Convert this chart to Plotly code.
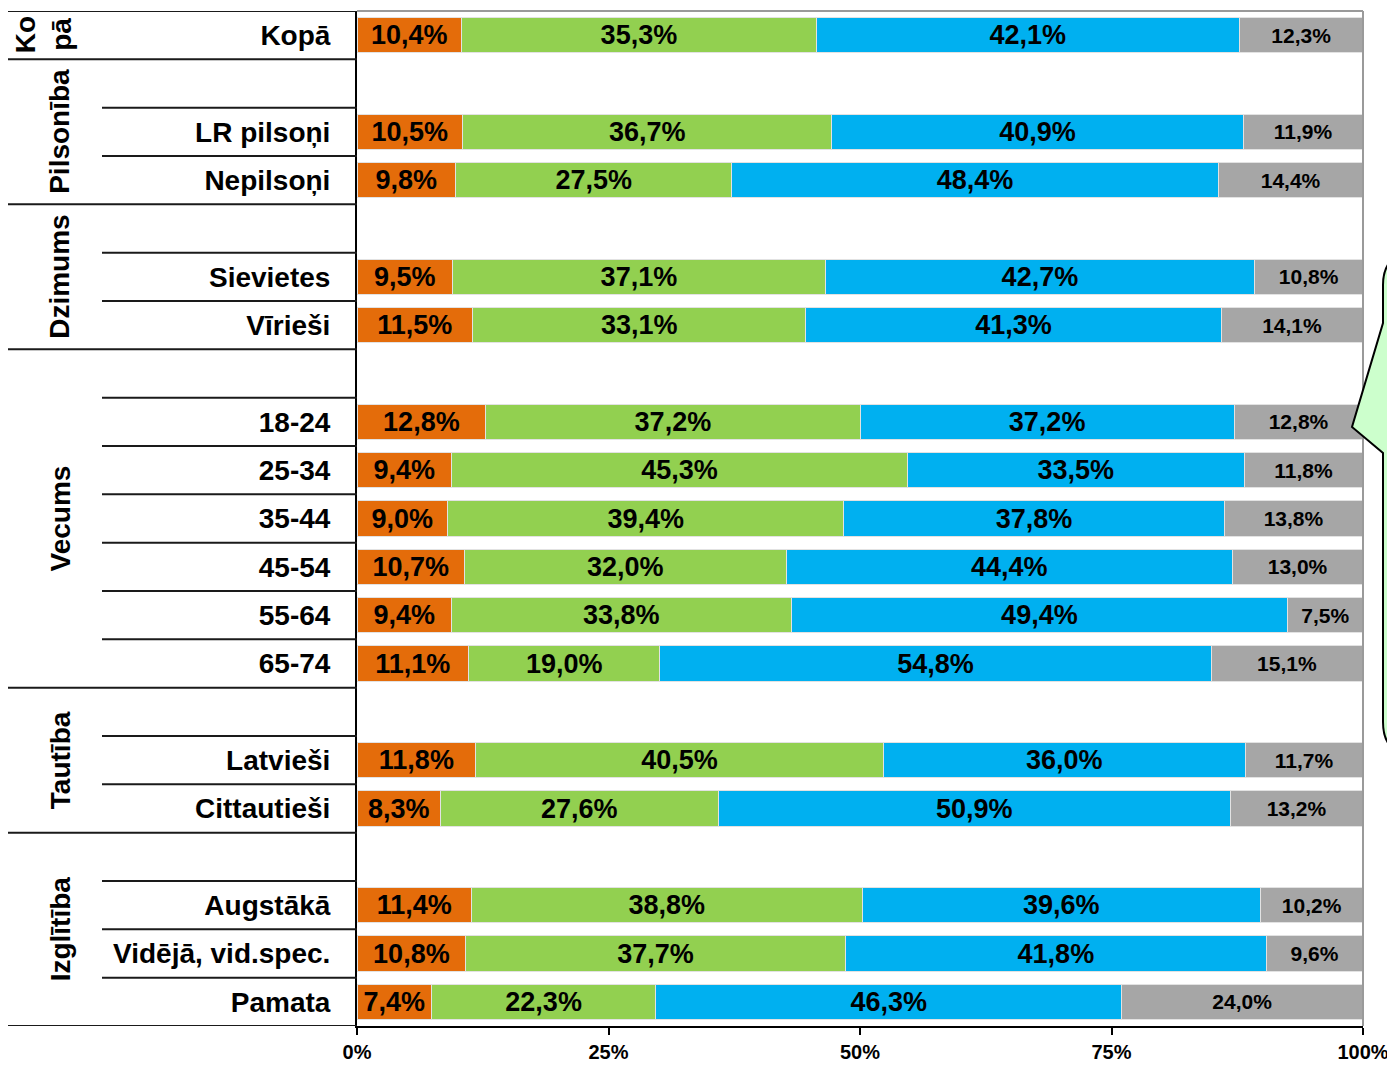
import plotly.graph_objects as go

# rows of the chart, blank strings are spacer rows under group titles
categories = ["Kopā", "", "LR pilsoņi", "Nepilsoņi", "", "Sievietes", "Vīrieši", "",
              "18-24", "25-34", "35-44", "45-54", "55-64", "65-74", "",
              "Latvieši", "Cittautieši", "", "Augstākā", "Vidējā, vid.spec.", "Pamata"]

groups = ["Ko<br>pā", "Pilsonība", "Dzimums", "Vecums", "Tautība", "Izglītība"]
group_first = [0, 1, 4, 7, 14, 17]
group_last = [0, 3, 6, 13, 16, 20]

s1 = [10.4, None, 10.5, 9.8, None, 9.5, 11.5, None, 12.8, 9.4, 9.0, 10.7, 9.4, 11.1,
      None, 11.8, 8.3, None, 11.4, 10.8, 7.4]
s2 = [35.3, None, 36.7, 27.5, None, 37.1, 33.1, None, 37.2, 45.3, 39.4, 32.0, 33.8, 19.0,
      None, 40.5, 27.6, None, 38.8, 37.7, 22.3]
s3 = [42.1, None, 40.9, 48.4, None, 42.7, 41.3, None, 37.2, 33.5, 37.8, 44.4, 49.4, 54.8,
      None, 36.0, 50.9, None, 39.6, 41.8, 46.3]
s4 = [12.3, None, 11.9, 14.4, None, 10.8, 14.1, None, 12.8, 11.8, 13.8, 13.0, 7.5, 15.1,
      None, 11.7, 13.2, None, 10.2, 9.6, 24.0]

x_ticks = [0, 25, 50, 75, 100]

FONT = "Liberation Sans, Arial, sans-serif"
PAGE = 8  # default body margin of the html page
W, H = 1395 - PAGE, 1065 - PAGE
L, R, T, B = 357, 1363, 11, 1026  # plot area in page pixels


def px_x(p):
    return (p - L) / (R - L)


def px_y(p):
    return (B - p) / (B - T)


def fmt(v):
    if v is None:
        return ""
    return f"{v:.1f}".replace(".", ",") + "%"


rows = list(range(len(categories)))

fig = go.Figure()
series = [
    (s1, "#E46C0A", 27),
    (s2, "#92D050", 27),
    (s3, "#00B0F0", 27),
    (s4, "#A6A6A6", 21),
]
for vals, color, fs in series:
    fig.add_trace(go.Bar(
        x=vals, y=rows, orientation="h",
        marker=dict(color=color, line=dict(color="#e2e2e2", width=1)),
        text=[fmt(v) for v in vals],
        textposition="inside", insidetextanchor="middle",
        constraintext="none",
        textfont=dict(family=FONT, size=fs, color="black", weight="bold"),
        showlegend=False, hoverinfo="skip",
    ))

shapes = []
# separator lines left of the plot
boundaries = set()
for a, b in zip(group_first, group_last):
    boundaries.add(a - 0.5)
    boundaries.add(b + 0.5)
for i in range(len(categories) - 1):
    yb = i + 0.5
    x0 = px_x(8) if yb in boundaries else px_x(102)
    shapes.append(dict(type="line", xref="paper", yref="y", x0=x0, x1=0, y0=yb, y1=yb,
                       line=dict(color="#1a1a1a", width=2)))
for yb in [-0.5, len(categories) - 0.5]:
    shapes.append(dict(type="line", xref="paper", yref="y", x0=px_x(8), x1=0, y0=yb, y1=yb,
                       line=dict(color="#1a1a1a", width=2)))

# top and right frame in gray
shapes.append(dict(type="line", xref="paper", yref="paper", x0=0, x1=1, y0=1, y1=1,
                   line=dict(color="#9a9a9a", width=2)))
shapes.append(dict(type="line", xref="paper", yref="paper", x0=1, x1=1, y0=0, y1=1,
                   line=dict(color="#9a9a9a", width=2)))

# callout bubble on the right edge
pts = ("M {a} {b} Q {a} {c} {d} {c} L {e} {c} L {e} {f} L {d} {f} Q {a} {f} {a} {g} "
       "L {a} {h} L {i} {j} L {a} {k} Z")
path = pts.format(a=px_x(1383), b=px_y(285), c=px_y(253), d=px_x(1415), e=px_x(1500),
                  f=px_y(755), g=px_y(722), h=px_y(453), i=px_x(1352), j=px_y(427),
                  k=px_y(323))
shapes.append(dict(type="path", xref="paper", yref="paper", path=path,
                   fillcolor="#CCFFCC", line=dict(color="black", width=2), layer="above"))

annotations = []
for g, a, b in zip(groups, group_first, group_last):
    xpos = px_x(43) if "<br>" in g else px_x(60)
    annotations.append(dict(
        text=g, xref="paper", yref="y", x=xpos, y=(a + b) / 2,
        textangle=-90, showarrow=False, xanchor="center", yanchor="middle",
        font=dict(family=FONT, size=28, color="black", weight="bold"),
    ))

fig.update_layout(
    width=W, height=H,
    margin=dict(l=L - PAGE, r=W + PAGE - R, t=T - PAGE, b=H + PAGE - B),
    barmode="stack", barnorm="percent", bargap=0.275,
    plot_bgcolor="white", paper_bgcolor="white",
    shapes=shapes, annotations=annotations,
    xaxis=dict(
        range=[0, 100], tickvals=x_ticks, ticktext=[f"{t}%" for t in x_ticks],
        showgrid=False, zeroline=False, showline=True, linecolor="black", linewidth=2,
        ticks="outside", ticklen=7, tickwidth=2, tickcolor="black",
        tickfont=dict(family=FONT, size=20, color="black", weight="bold"),
    ),
    yaxis=dict(
        range=[len(categories) - 0.5, -0.5], tickvals=rows, ticktext=categories,
        showgrid=False, zeroline=False, showline=True, linecolor="black", linewidth=2,
        ticks="", ticklabelstandoff=19,
        tickfont=dict(family=FONT, size=28, color="black", weight="bold"),
    ),
)

fig.write_html("out.html")
